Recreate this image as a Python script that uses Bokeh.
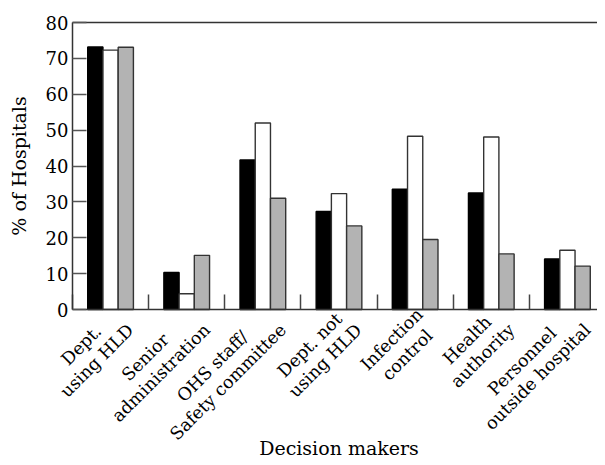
import math
from bokeh.plotting import figure
from bokeh.models import Range1d, FixedTicker, LinearAxis, Label, ColumnDataSource
from bokeh.embed import file_html
from bokeh.resources import INLINE

categories = ["Dept.\nusing HLD", "Senior\nadministration", "OHS staff/\nSafety committee",
              "Dept. not\nusing HLD", "Infection\ncontrol", "Health\nauthority",
              "Personnel\noutside hospital"]
series_black = [73.2, 10.3, 41.7, 27.3, 33.5, 32.5, 14.1]
series_white = [72.3, 4.4, 52.0, 32.3, 48.3, 48.1, 16.5]
series_gray = [73.1, 15.1, 31.0, 23.3, 19.5, 15.5, 12.1]
y_ticks = [0, 10, 20, 30, 40, 50, 60, 70, 80]
x_title = "Decision makers"
y_title = "% of Hospitals"

FONT = "DejaVu Serif"
TICK_FS = 17.5
n = len(categories)
centers = [i + 0.5 for i in range(n)]
bounds = [float(i) for i in range(n)]
y_max = y_ticks[-1]

# page geometry (pixels): plot area spans x 72..605, y 22 (top) .. 309 (zero line)
W_PX, H_PX = 597, 457
LEFT, TOP, ZERO = 72, 22, 309
slot = (605 - LEFT) / n
ppu = (ZERO - TOP) / y_max

p = figure(width=W_PX, height=H_PX, output_backend="svg", toolbar_location=None,
           x_axis_location=None, y_axis_location=None,
           x_range=Range1d(-LEFT / slot, (W_PX - LEFT) / slot),
           y_range=Range1d(-(H_PX - ZERO) / ppu, y_max + TOP / ppu),
           min_border=0)
p.outline_line_color = None
p.grid.visible = False

bw = 0.2
for vals, off, fill, edge in [(series_black, -bw, "black", "black"),
                              (series_white, 0.0, "white", "#333333"),
                              (series_gray, bw, "#b3b3b3", "#333333")]:
    src = ColumnDataSource(dict(x=[c + off for c in centers], top=vals))
    p.vbar(x="x", top="top", width=bw, bottom=0, source=src, fill_color=fill,
           line_color=edge, line_width=1.4)

# y axis
ya = LinearAxis(fixed_location=0, bounds=(0, y_max),
                ticker=FixedTicker(ticks=y_ticks, minor_ticks=[]),
                major_tick_in=14, major_tick_out=0, minor_tick_in=0, minor_tick_out=0,
                axis_line_color="#333333", axis_line_width=1.5,
                major_tick_line_color="#555555", major_tick_line_width=1.5,
                major_label_text_font=FONT, major_label_text_font_size="18px",
                major_label_text_color="black", major_label_standoff=4)
p.add_layout(ya, "left")

# x axis: separators between categories as inward minor ticks
xa = LinearAxis(fixed_location=0, bounds=(0, n),
                ticker=FixedTicker(ticks=[], minor_ticks=bounds),
                major_label_text_font_size="0px",
                major_tick_in=0, major_tick_out=0, minor_tick_in=15, minor_tick_out=0,
                minor_tick_line_color="#444444", minor_tick_line_width=1.5,
                axis_line_color="#333333", axis_line_width=1.5)
p.add_layout(xa, "below")

# top frame line
top = LinearAxis(fixed_location=y_max, bounds=(0, n), ticker=FixedTicker(ticks=[]),
                 major_label_text_font_size="0px",
                 major_tick_in=0, major_tick_out=0, minor_tick_in=0, minor_tick_out=0,
                 axis_line_color="#333333", axis_line_width=1.5)
p.add_layout(top, "above")

# approximate DejaVu Serif advance widths (em), used only to centre rotated labels
EM = {" ": .318, ".": .318, "/": .337, "a": .596, "c": .560, "d": .640, "e": .592,
      "f": .370, "g": .640, "h": .644, "i": .320, "k": .608, "l": .320, "m": .948,
      "n": .644, "o": .602, "p": .640, "r": .478, "s": .513, "t": .402, "u": .644,
      "y": .566, "D": .830, "H": .872, "I": .402, "L": .698, "N": .847, "O": .820,
      "P": .687, "S": .686}


def text_width(s, fs):
    return sum(EM.get(ch, 0.6) for ch in s) * fs


# rotated category labels: lines centred on each other, block ends at the group centre
LINE = 22.0
ang = math.pi / 4
r2 = math.sqrt(2)
for c, lab in zip(centers, categories):
    lines = lab.split("\n")
    Wt = max(text_width(s, TICK_FS) for s in lines)
    u_c = -Wt / 2 + 2
    for k, s in enumerate(lines):
        v_k = 4.5 + k * LINE
        p.add_layout(Label(x=c, y=0, x_offset=(u_c + v_k) / r2, y_offset=(u_c - v_k) / r2,
                           text=s, angle=ang, text_align="center", text_baseline="middle",
                           text_font=FONT, text_font_size=f"{TICK_FS}px", text_color="black"))

# axis titles
p.add_layout(Label(x=n / 2, y=0, y_offset=-(447 - ZERO), text=x_title, text_align="center",
                   text_baseline="middle", text_font=FONT, text_font_size="19px",
                   text_color="black"))
p.add_layout(Label(x=0, y=y_max / 2, x_offset=-(LEFT - 18), text=y_title, angle=math.pi / 2,
                   text_align="center", text_baseline="middle", text_font=FONT,
                   text_font_size="19px", text_color="black"))

open("out.html", "w").write(file_html(p, INLINE))
